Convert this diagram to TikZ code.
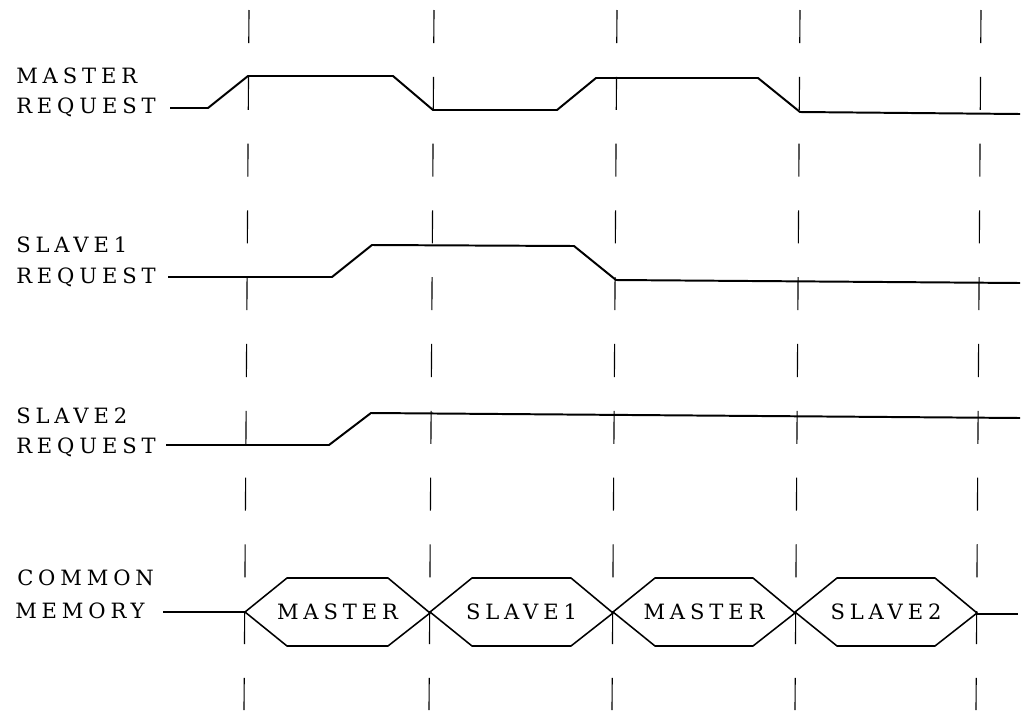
\documentclass[tikz,border=0pt]{standalone}
\usepackage{fontspec}
\setmainfont{DejaVu Serif}
\newfontfamily\sigfont[LetterSpace=23]{DejaVu Serif}
\tikzset{sig/.style={line width=1.4pt,line join=round}, guide/.style={line width=0.8pt,dash pattern=on 23.5pt off 24pt}, bus/.style={line width=1.1pt,line join=round}, lbl/.style={inner sep=0pt,anchor=base west,font=\sigfont\fontsize{15}{18}\selectfont}, busname/.style={inner sep=0pt,font=\sigfont\fontsize{15}{18}\selectfont}}

\begin{document}
\begin{tikzpicture}[x=0.025cm,y=-0.025cm]
\useasboundingbox (0,0) rectangle (1028,718);
% time marks
\foreach \x in {249,434,617,800,981} \draw[guide] (\x,10) -- (\x-5,710);
% signal names
\node[lbl] (mreqA) at (16,83) {MASTER};
\node[lbl] (mreqB) at (16,113) {REQUEST};
\node[lbl] (sreqA) at (16,252) {SLAVE1};
\node[lbl] (sreqB) at (16,283) {REQUEST};
\node[lbl] (treqA) at (16,423) {SLAVE2};
\node[lbl] (treqB) at (16,453) {REQUEST};
\node[lbl] (cmemA) at (17,585) {COMMON};
\node[lbl] (cmemB) at (15,618) {MEMORY};
% request lines
\draw[sig] (170,108) -- (208,108) -- (248,76) -- (393,76) -- (433,110) -- (557,110) -- (596,78) -- (758,78) -- (800,112) -- (1020,114);
\draw[sig] (168,277) -- (332,277) -- (372,245) -- (574,246) -- (616,280) -- (1020,283);
\draw[sig] (166,445) -- (329,445) -- (371,413) -- (1020,418);
% common memory bus
\draw[sig] (163,612) -- (245,612);
\draw[sig] (977,614) -- (1018,614);
\foreach \a/\b/\txt [count=\i] in {245/430/MASTER,430/613/SLAVE1,613/795/MASTER,795/977/SLAVE2} {
  \draw[bus] (\a,612) -- (\a+42,578) -- (\b-42,578) -- (\b,613) -- (\b-42,646) -- (\a+42,646) -- cycle;
  \node[busname] (slot\i) at ({(\a+\b)/2},612) {\txt};
}
\end{tikzpicture}
\end{document}
